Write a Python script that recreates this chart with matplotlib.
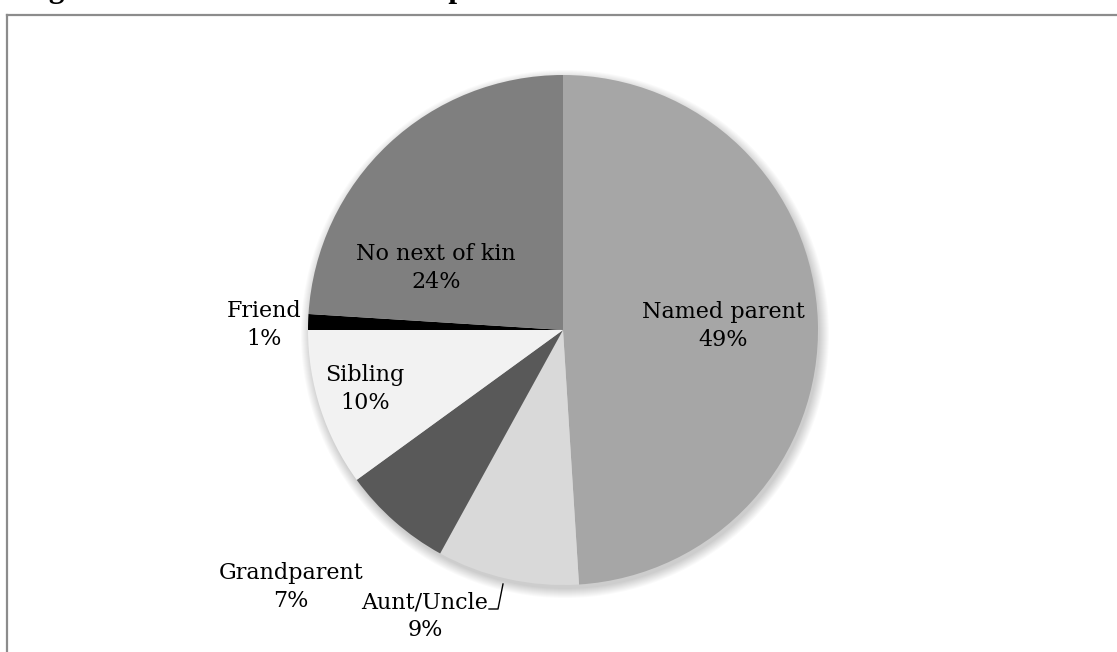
import matplotlib
matplotlib.use("Agg")
import matplotlib.pyplot as plt
from matplotlib.patches import Circle
from matplotlib.lines import Line2D

categories = ["Named parent", "Aunt/Uncle", "Grandparent", "Sibling", "Friend", "No next of kin"]
values = [49, 9, 7, 10, 1, 24]
colors = ["#a6a6a6", "#d9d9d9", "#595959", "#f2f2f2", "#000000", "#7f7f7f"]
title = "Figure 4: Next of kin relationship"

W, H = 1117, 652
fig = plt.figure(figsize=(W / 100, H / 100), dpi=100)
ax = fig.add_axes([0, 0, 1, 1])
ax.axis("off")

cx, cy, r = 563, H - 330, 255

# soft shadow
for k in range(10):
    ax.add_patch(Circle((cx + 2, cy - 4), r + 9 - k, color="#000000", alpha=0.02, lw=0, zorder=0))

wedges, _ = ax.pie(values, colors=colors, startangle=90, counterclock=False,
                   center=(cx, cy), radius=r, wedgeprops=dict(linewidth=0))
for w in wedges:
    w.set_zorder(1)
ax.set_xlim(0, W)
ax.set_ylim(0, H)
ax.set_aspect("auto")

font = "DejaVu Serif"
fs = 16.0
label_pos = [(723, 326), (425, 616), (291, 587), (365, 389), (264, 325), (436, 268)]
for name, v, (lx, ly) in zip(categories, values, label_pos):
    ax.text(lx, H - ly, f"{name}\n{v}%", ha="center", va="center", fontsize=fs,
            family=font, linespacing=1.35, color="#000000", zorder=3)

# leader line for Aunt/Uncle
ax.add_line(Line2D([489, 498, 503], [H - 609, H - 609, H - 584], color="#000000", lw=1.0, zorder=3))

# frame
fig.add_artist(Line2D([7 / W, 1], [1 - 15 / H, 1 - 15 / H], transform=fig.transFigure, color="#8c8c8c", lw=1.6))
fig.add_artist(Line2D([7 / W, 7 / W], [1 - 15 / H, 0], transform=fig.transFigure, color="#8c8c8c", lw=1.6))

# cut-off title (only descenders visible, as in the reference)
fig.text(21 / W, 1 + 3 / H, title, ha="left", va="baseline", fontsize=22.5, family="Liberation Serif",
         weight="bold")

fig.savefig("out.png", dpi=100, facecolor="white")
